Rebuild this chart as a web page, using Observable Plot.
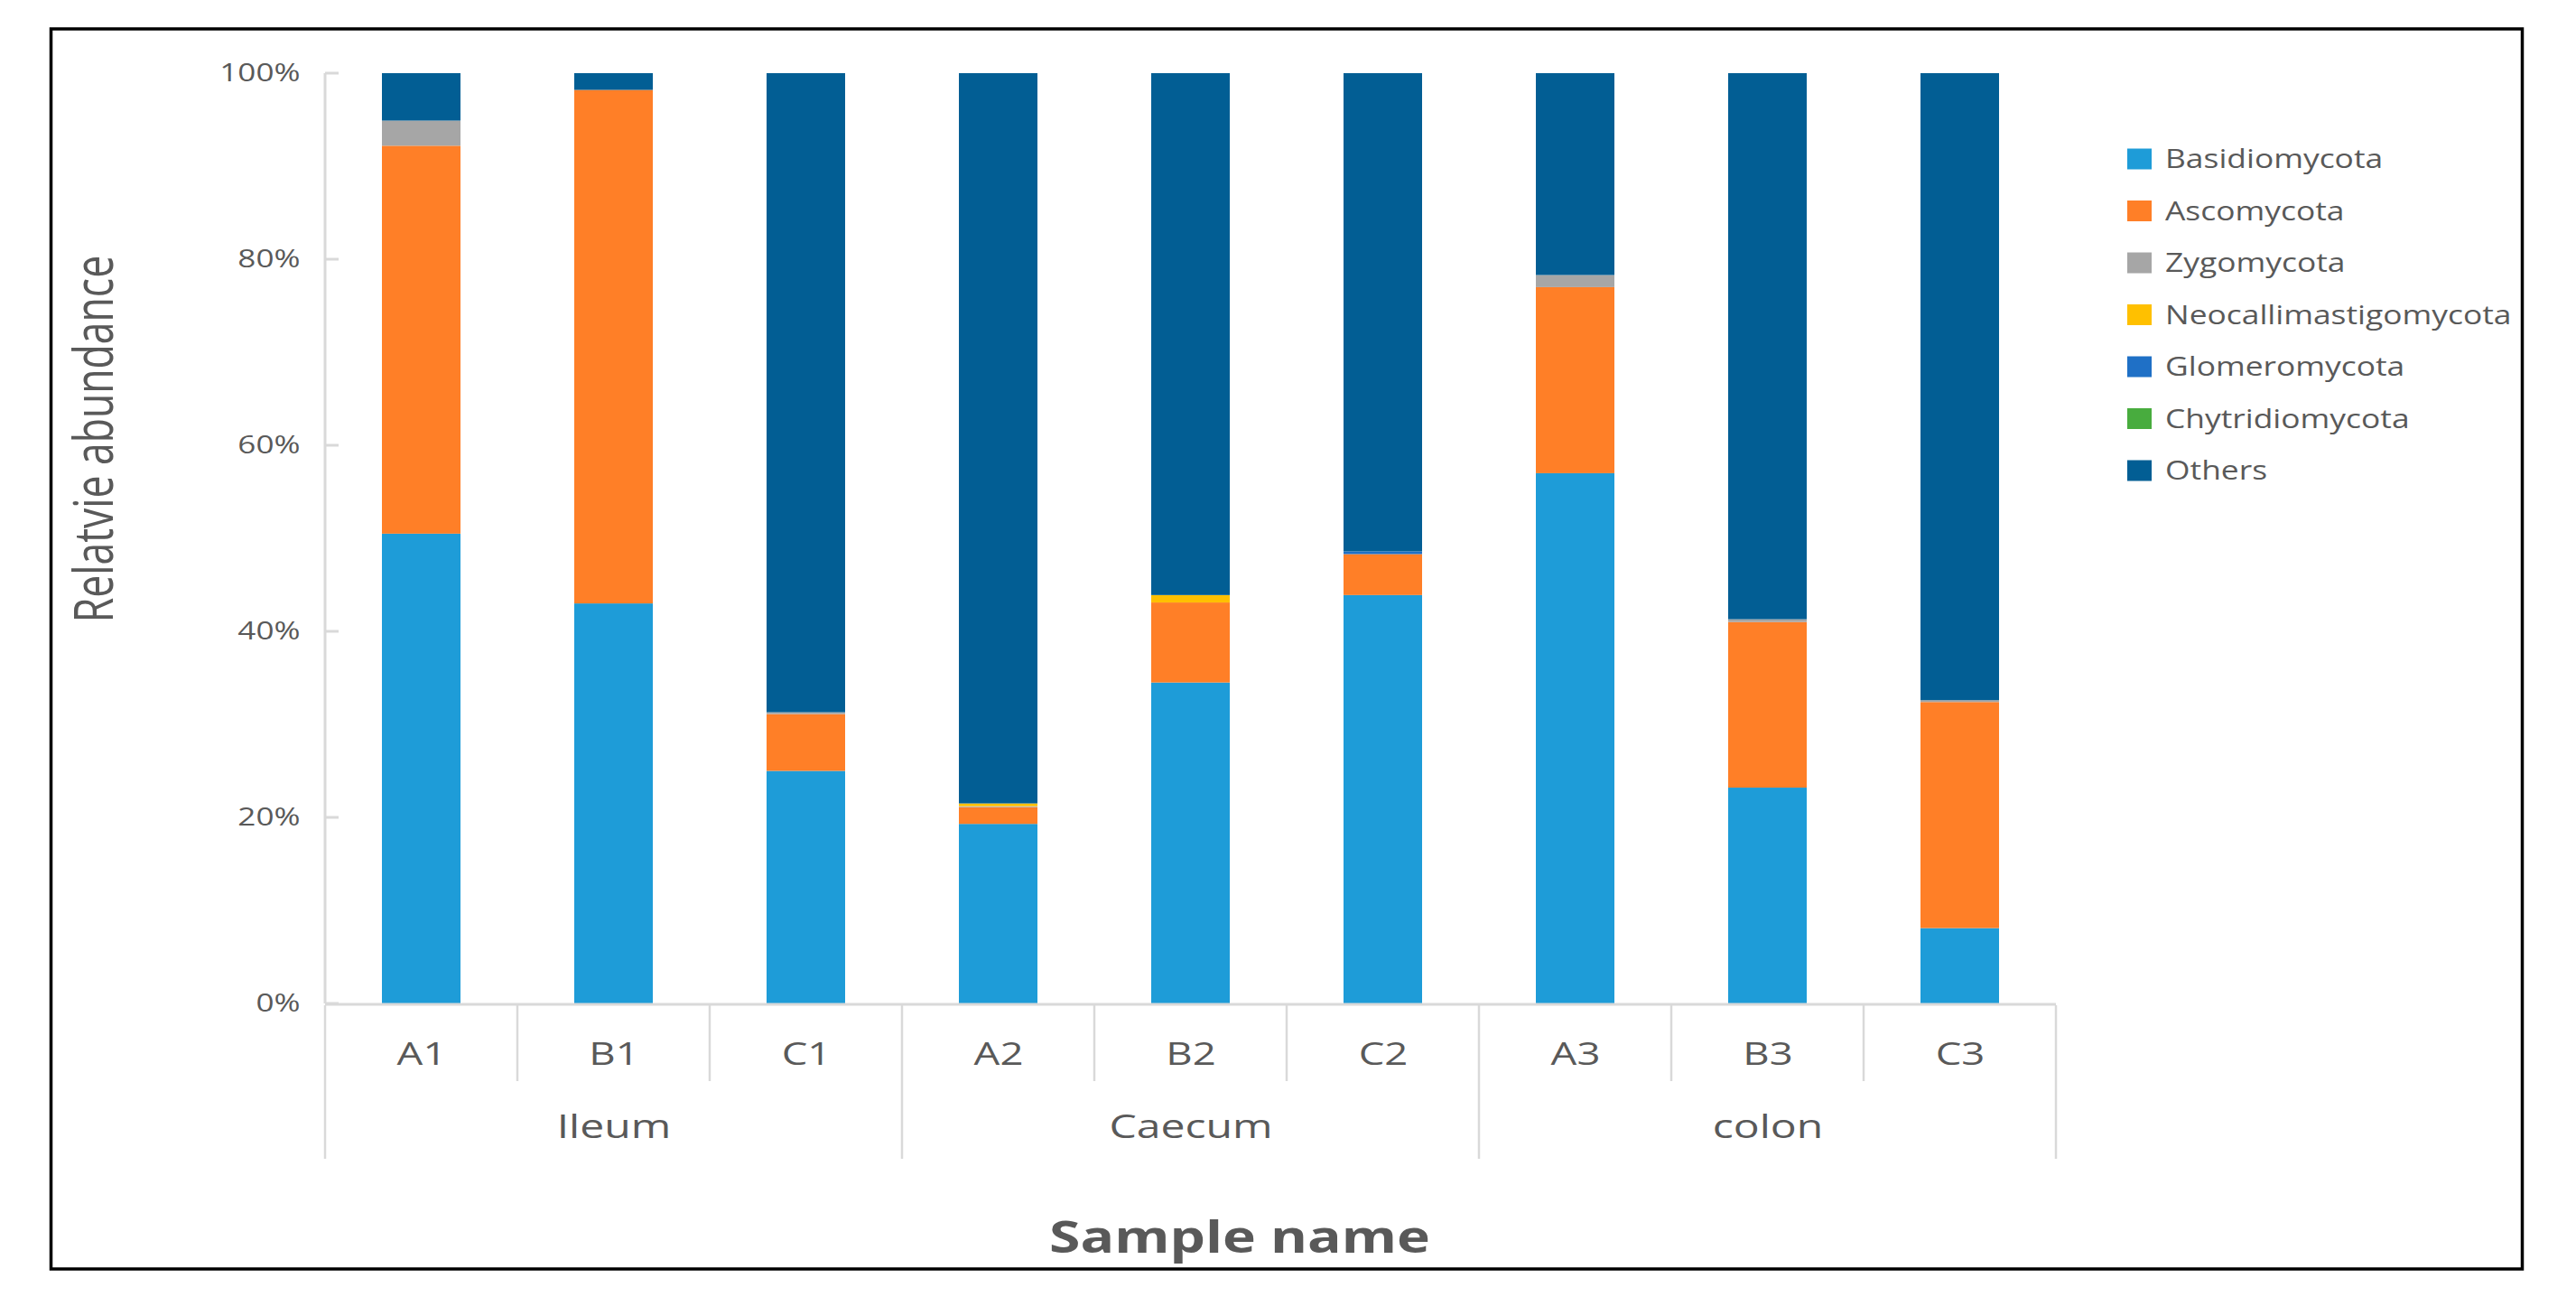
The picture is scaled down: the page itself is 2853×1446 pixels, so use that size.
<!DOCTYPE html>
<html><head><meta charset="utf-8">
<script src="https://cdn.jsdelivr.net/npm/d3@7"></script>
<script src="https://cdn.jsdelivr.net/npm/@observablehq/plot@0.6"></script>
<style>html,body{margin:0;padding:0;background:#fff;} #chart{width:2853px;height:1446px;}</style>
</head><body><div id="chart"></div>
<script>
const samples = ["A1","B1","C1","A2","B2","C2","A3","B3","C3"];
const groups = ["Ileum","Caecum","colon"];
const groupCenters = ["B1","B2","B3"];
const phyla = ["Basidiomycota","Ascomycota","Zygomycota","Neocallimastigomycota","Glomeromycota","Chytridiomycota","Others"];
const phylumColors = ["#1E9CD8","#FF7F27","#A6A6A6","#FFC000","#1F70C6","#48AC3E","#025E94"];
const basidiomycota = [50.5,43.0,25.0,19.3,34.5,43.9,57.0,23.2,8.1];
const ascomycota = [41.7,55.2,6.1,1.8,8.6,4.4,20.0,17.8,24.3];
const zygomycota = [2.7,0,0.2,0.1,0,0,1.3,0.3,0.2];
const neocallimastigomycota = [0,0,0,0.3,0.8,0,0,0,0];
const glomeromycota = [0,0,0,0,0,0.3,0,0,0];
const chytridiomycota = [0,0,0,0,0,0,0,0,0];
const others = [5.1,1.8,68.7,78.5,56.1,51.4,21.7,58.7,67.4];
const yTicks = [0,20,40,60,80,100];

const series = [basidiomycota, ascomycota, zygomycota, neocallimastigomycota, glomeromycota, chytridiomycota, others];
const data = [];
samples.forEach((s, i) => phyla.forEach((p, j) => data.push({sample: s, phylum: p, value: series[j][i]})));

const W = 2853, H = 1446;
const STRETCH = 1.3;
const LEGEND_STRETCH = 1.22;
const grey = "#595959";
const lineGrey = "#D9D9D9";

const plot = Plot.plot({
  width: W, height: H,
  marginLeft: 358, marginRight: 573, marginTop: 81, marginBottom: 335,
  style: {fontFamily: "'Open Sans', sans-serif", background: "#fff", color: grey},
  x: {domain: samples, paddingInner: 0.59, paddingOuter: 0.295, axis: null},
  y: {domain: [0, 100], axis: null},
  color: {domain: phyla, range: phylumColors},
  marks: [
    Plot.barY(data, {x: "sample", y: "value", fill: "phylum"}),
    Plot.axisY(yTicks, {tickSize: 0, tickPadding: 26, tickFormat: d => d + "%", fontSize: 27, label: null, fill: grey}),
    Plot.text(samples, {x: d => d, frameAnchor: "bottom", dy: 67, fontSize: 35, fill: grey}),
    Plot.text(groupCenters, {x: d => d, text: (d, i) => groups[i], frameAnchor: "bottom", dy: 148, fontSize: 37, fill: grey})
  ]
});
document.getElementById("chart").appendChild(plot);

const svg = d3.select(plot);
const xs = plot.scale("x"), ys = plot.scale("y");
const step = xs.step, bw = xs.bandwidth;
const y0 = ys.apply(0), y100 = ys.apply(100);
const xLeft = xs.apply(samples[0]) + bw / 2 - step / 2;
const xRight = xs.apply(samples[samples.length - 1]) + bw / 2 + step / 2;

const deco = svg.append("g").attr("stroke", lineGrey).attr("fill", "none");
// y axis line and ticks
deco.append("line").attr("x1", xLeft).attr("x2", xLeft).attr("y1", y100).attr("y2", y0).attr("stroke-width", 3);
yTicks.forEach(t => deco.append("line").attr("x1", xLeft).attr("x2", xLeft + 15).attr("y1", ys.apply(t)).attr("y2", ys.apply(t)).attr("stroke-width", 3));
// x axis line
deco.append("line").attr("x1", xLeft).attr("x2", xRight).attr("y1", y0 + 1).attr("y2", y0 + 1).attr("stroke-width", 3);
// separators
samples.forEach((s, i) => {
  const bx = xs.apply(s) + bw / 2 - step / 2;
  const isGroup = i % 3 === 0;
  deco.append("line").attr("x1", bx).attr("x2", bx).attr("y1", y0 + 2).attr("y2", isGroup ? 1283 : 1197).attr("stroke-width", 2.5);
});
deco.append("line").attr("x1", xRight).attr("x2", xRight).attr("y1", y0 + 2).attr("y2", 1283).attr("stroke-width", 2.5);

// x title
svg.append("text").attr("x", 1373).attr("y", 1370).attr("dy", "0.36em").attr("text-anchor", "middle")
  .attr("font-size", 48).attr("font-weight", "bold").attr("fill", grey).text("Sample name");

// stretch all horizontal texts
svg.selectAll("text").each(function() {
  const b = this.getBBox();
  if (b.width > 0) {
    this.setAttribute("textLength", b.width * STRETCH);
    this.setAttribute("lengthAdjust", "spacingAndGlyphs");
  }
});

// legend
const leg = svg.append("g").attr("text-anchor", "start");
phyla.forEach((p, i) => {
  const cy = 176 + 57.5 * i;
  leg.append("rect").attr("x", 2356).attr("y", cy - 11.5).attr("width", 27).attr("height", 23).attr("fill", phylumColors[i]);
  const t = leg.append("text").attr("x", 2398).attr("y", cy).attr("dy", "0.36em").attr("text-anchor", "start")
    .attr("font-size", 29).attr("fill", grey).text(p);
  const b = t.node().getBBox();
  t.attr("textLength", b.width * LEGEND_STRETCH).attr("lengthAdjust", "spacingAndGlyphs");
});

// y title (rotated, thickened)
svg.append("text").attr("transform", `translate(103,486) scale(${STRETCH + 0.05},1) rotate(-90)`)
  .attr("text-anchor", "middle").attr("dy", "0.36em").attr("font-size", 44.5).attr("fill", grey)
  .text("Relatvie abundance");

// frame border
svg.append("rect").attr("x", 56.5).attr("y", 32).attr("width", 2737).attr("height", 1373)
  .attr("fill", "none").attr("stroke", "#000").attr("stroke-width", 3.5);
</script>
</body></html>
